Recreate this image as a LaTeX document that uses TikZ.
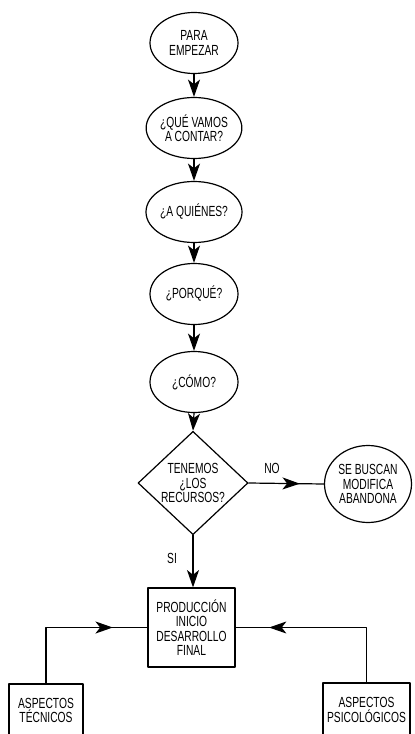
\documentclass[tikz,border=0pt]{standalone}
\usepackage{fontspec}
\setmainfont{Liberation Sans}[FakeStretch=0.7]
\usetikzlibrary{arrows.meta,shapes.geometric,decorations.markings}

\begin{document}
\begin{tikzpicture}[x=0.75pt,y=-0.75pt,>={Stealth[length=13pt,width=9pt,inset=3.5pt]},line cap=round,line join=round,
  font=\fontsize{11}{10.9}\selectfont,
  elip/.style={draw,ellipse,line width=0.9pt,minimum width=66pt,minimum height=45.75pt,inner sep=0pt,align=center},
  caja/.style={draw,rectangle,line width=0.9pt,inner sep=0pt,align=center},
  flecha/.style={->,line width=0.9pt},
  flechamedio/.style={line width=0.9pt,postaction={decorate},decoration={markings,mark=at position #1 with {\arrow{>}}}}]
\useasboundingbox (0,0) rectangle (414,734);
\node[elip] (empezar) at (194,43) {PARA\\EMPEZAR};
\node[elip] (contar) at (194,128) {¿QUÉ VAMOS\\A CONTAR?};
\node[elip] (quienes) at (194,212) {¿A QUIÉNES?};
\node[elip] (porque) at (194,294) {¿PORQUÉ?};
\node[elip] (como) at (194,382) {¿CÓMO?};
\node[draw,diamond,line width=0.9pt,minimum width=82.5pt,minimum height=75.75pt,inner sep=0pt,align=center] (recursos) at (193,483) {TENEMOS\\¿LOS\\RECURSOS?};
\node[elip,minimum width=65.25pt,minimum height=57.75pt] (buscan) at (368,484) {SE BUSCAN\\MODIFICA\\ABANDONA};
\node[caja,minimum width=65.25pt,minimum height=59.25pt] (produccion) at (191.5,627.5) {PRODUCCIÓN\\INICIO\\DESARROLLO\\FINAL};
\node[caja,minimum width=55.5pt,minimum height=39.75pt] (tecnicos) at (46,710.5) {ASPECTOS\\TÉCNICOS};
\node[caja,minimum width=65.25pt,minimum height=40.5pt] (psicologicos) at (366.5,710) {ASPECTOS\\PSICOLÓGICOS};
\node (no) at (272,468) {NO};
\node (si) at (172,558) {SI};
\draw[flecha] (empezar.south) -- (contar.north);
\draw[flecha] (contar.south) -- (quienes.north);
\draw[flecha] (quienes.south) -- (porque.north);
\draw[flecha] (porque.south) -- (como.north);
\draw[flecha] (como.south) -- (recursos.north);
\draw[flechamedio=0.68] (recursos.east) -- (buscan.west);
\draw[flecha] (recursos.south) -- (recursos.south |- produccion.north);
\draw[flechamedio=0.78] (tecnicos.north) |- (produccion.west);
\draw[flechamedio=0.82] (psicologicos.north) |- (produccion.east);
\end{tikzpicture}
\end{document}
